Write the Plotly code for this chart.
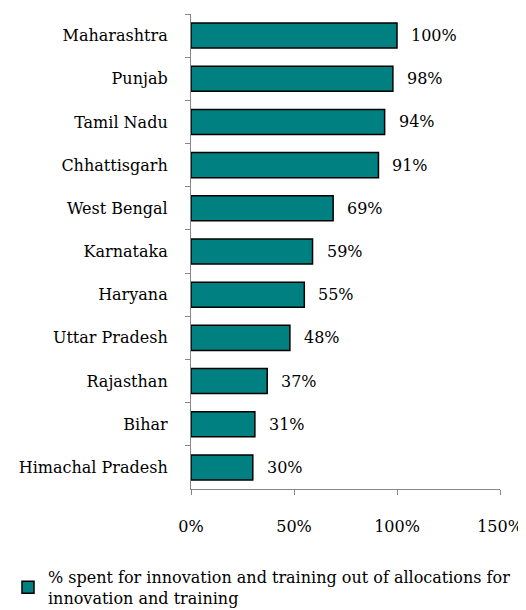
import plotly.graph_objects as go

states = ["Maharashtra", "Punjab", "Tamil Nadu", "Chhattisgarh", "West Bengal",
          "Karnataka", "Haryana", "Uttar Pradesh", "Rajasthan", "Bihar", "Himachal Pradesh"]
spent_pct = [100, 98, 94, 91, 69, 59, 55, 48, 37, 31, 30]
x_ticks = [0, 50, 100, 150]
x_tick_labels = ["0%", "50%", "100%", "150%"]
series_name = "% spent for innovation and training out of allocations for<br>innovation and training"

FONT = "DejaVu Serif"

fig = go.Figure()
fig.add_trace(go.Bar(
    y=states, x=spent_pct, orientation="h",
    marker=dict(color="#008080", line=dict(color="#000000", width=1.5)),
    name=series_name, showlegend=True,
))

for s, v in zip(states, spent_pct):
    fig.add_annotation(x=v, y=s, text=f"{v}%", showarrow=False,
                       xanchor="left", xshift=12,
                       font=dict(family=FONT, size=16, color="#000000"))

fig.update_layout(
    width=518, height=602,
    margin=dict(l=183, r=26, t=6, b=121, autoexpand=False),
    paper_bgcolor="white", plot_bgcolor="white",
    bargap=0.42,
    font=dict(family=FONT, size=16, color="#000000"),
    showlegend=True,
    legend=dict(xref="container", yref="container", x=0.0, y=0.083,
                xanchor="left", yanchor="top", orientation="h",
                font=dict(family=FONT, size=16, color="#000000"),
                itemwidth=30, tracegroupgap=0),
    xaxis=dict(range=[0, 150], tickvals=x_ticks, ticktext=x_tick_labels,
               showgrid=False, zeroline=False, showline=True, automargin=False,
               linecolor="#868686", linewidth=1.2,
               ticks="outside", ticklen=5, tickcolor="#868686",
               ticklabelstandoff=18,
               tickfont=dict(family=FONT, size=16)),
    yaxis=dict(autorange="reversed", showgrid=False, zeroline=False,
               showline=True, automargin=False, linecolor="#868686", linewidth=1.2,
               ticks="outside", ticklen=5, tickcolor="#868686",
               tickson="boundaries", ticklabelstandoff=19,
               tickfont=dict(family=FONT, size=16)),
)

fig.write_html("out.html")
